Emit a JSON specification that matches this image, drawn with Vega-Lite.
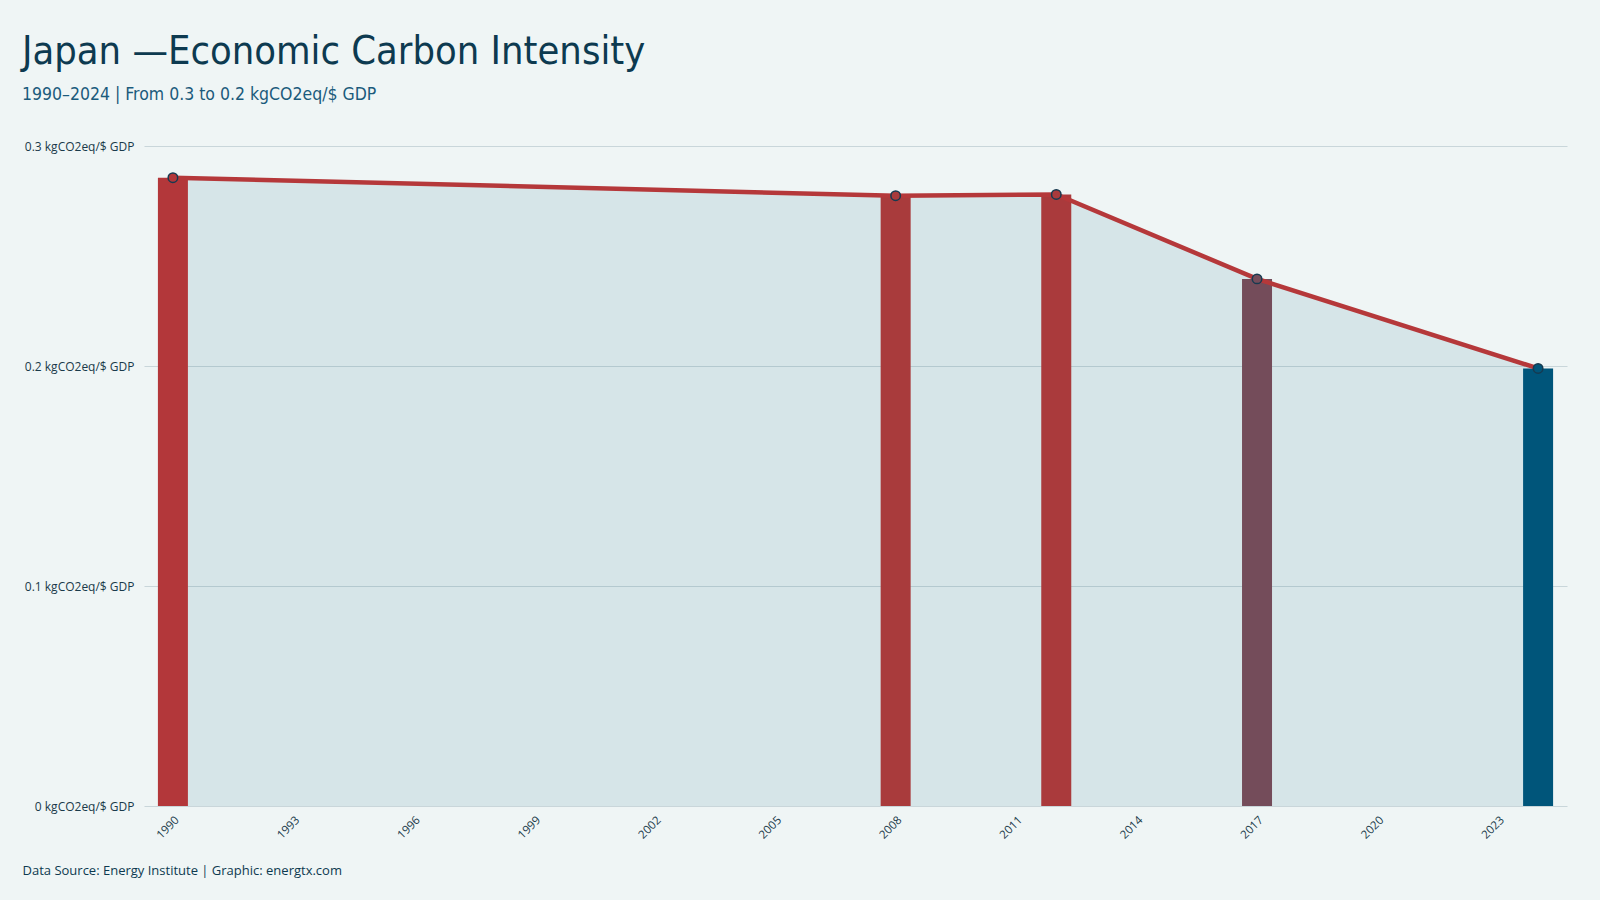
{
  "$schema": "https://vega.github.io/schema/vega-lite/v6.json",
  "width": 1600,
  "height": 900,
  "autosize": {"type": "fit", "contains": "padding"},
  "padding": {"left": 22, "top": 32, "right": 33, "bottom": 23},
  "background": "#eff5f5",
  "config": {
    "view": {"stroke": null},
    "font": "Open Sans"
  },
  "title": {
    "text": "Japan —Economic Carbon Intensity",
    "subtitle": "1990–2024 | From 0.3 to 0.2 kgCO2eq/$ GDP",
    "anchor": "start",
    "frame": "bounds",
    "font": "DejaVu Sans Condensed, sans-serif",
    "fontSize": 39.5,
    "fontWeight": "normal",
    "color": "#0d3a50",
    "subtitleFont": "DejaVu Sans Condensed, sans-serif",
    "subtitleFontSize": 17.5,
    "subtitleColor": "#1b5b7c",
    "subtitlePadding": 13,
    "offset": 36
  },
  "data": {
    "values": [
      {"year": 1990, "value": 0.2856},
      {"year": 2008, "value": 0.2774},
      {"year": 2012, "value": 0.2780},
      {"year": 2017, "value": 0.2396},
      {"year": 2024, "value": 0.1989}
    ]
  },
  "encoding": {
    "x": {
      "field": "year",
      "type": "quantitative",
      "scale": {"domain": [1989.28, 2024.72], "nice": false, "zero": false, "padding": 0},
      "axis": {
        "values": [1990, 1993, 1996, 1999, 2002, 2005, 2008, 2011, 2014, 2017, 2020, 2023],
        "format": "d",
        "labelAngle": -45,
        "labelFontSize": 11.5,
        "labelColor": "#1a3a4a",
        "labelPadding": 8,
        "ticks": false,
        "domain": false,
        "grid": false,
        "title": "Data Source: Energy Institute | Graphic: energtx.com",
        "titleFontSize": 13,
        "titleFontWeight": "normal",
        "titleColor": "#0d3a50",
        "titleAnchor": "start",
        "titleAlign": "left",
        "titleX": -122,
        "titleY": 68,
        "titleBaseline": "alphabetic"
      }
    },
    "y": {
      "field": "value",
      "type": "quantitative",
      "scale": {"domain": [0, 0.3], "nice": false},
      "axis": {
        "values": [0, 0.1, 0.2, 0.3],
        "labelExpr": "datum.value == 0 ? '0 kgCO2eq/$ GDP' : format(datum.value, '.1f') + ' kgCO2eq/$ GDP'",
        "labelFontSize": 12,
        "labelColor": "#1a3a4a",
        "labelPadding": 10,
        "ticks": false,
        "domain": false,
        "grid": true,
        "gridColor": "#c9d6da",
        "gridWidth": 1.2,
        "title": null
      }
    }
  },
  "layer": [
    {
      "mark": {"type": "area", "color": "#00557a", "opacity": 0.1}
    },
    {
      "mark": {"type": "bar", "size": 30},
      "encoding": {
        "color": {
          "field": "year",
          "type": "nominal",
          "scale": {"domain": [1990, 2008, 2012, 2017, 2024], "range": ["#b3373a", "#a93b3c", "#aa3a3c", "#744c5a", "#00557a"]},
          "legend": null
        }
      }
    },
    {
      "mark": {"type": "line", "color": "#b5383a", "strokeWidth": 4.5}
    },
    {
      "mark": {"type": "point", "filled": true, "size": 90, "opacity": 1, "stroke": "#163a50", "strokeWidth": 1.5},
      "encoding": {
        "color": {
          "field": "year",
          "type": "nominal",
          "scale": {"domain": [1990, 2008, 2012, 2017, 2024], "range": ["#b3373a", "#a93b3c", "#aa3a3c", "#744c5a", "#00557a"]},
          "legend": null
        }
      }
    }
  ]
}
